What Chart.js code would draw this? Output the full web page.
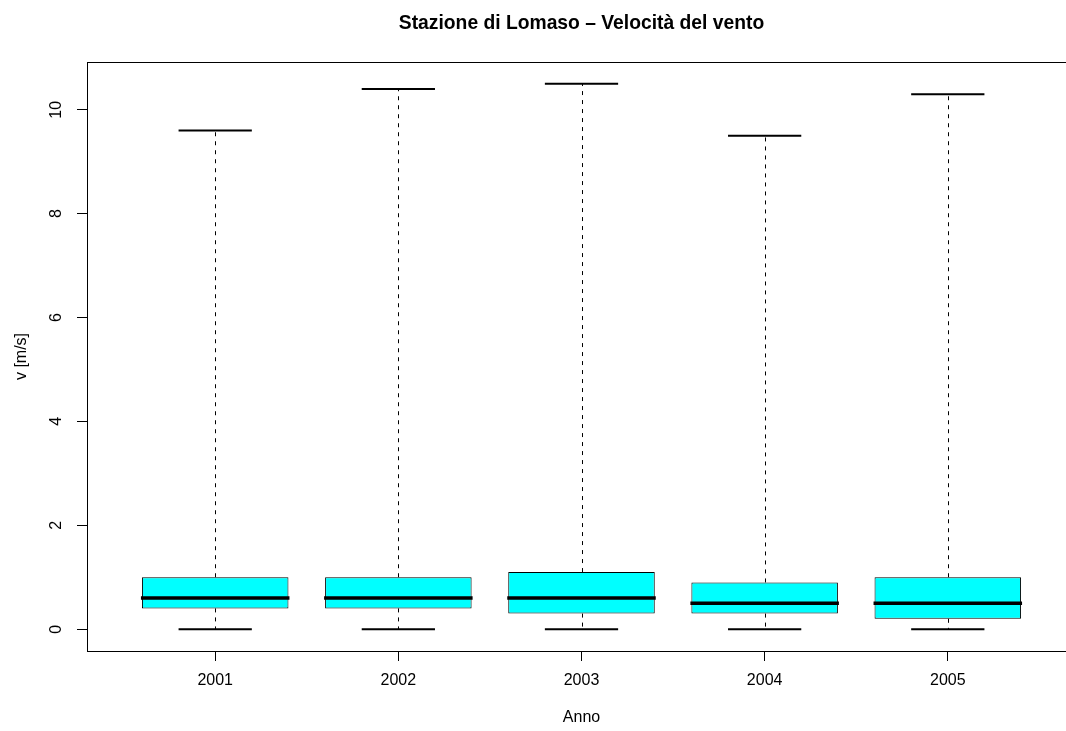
<!DOCTYPE html>
<html>
<head>
<meta charset="utf-8">
<script src="https://cdn.jsdelivr.net/npm/chart.js@4/dist/chart.umd.min.js"></script>
<style>
html,body{margin:0;padding:0;background:#fff;overflow:hidden;width:1066px;height:731px;}
canvas{display:block;}
</style>
</head>
<body>
<canvas id="c" width="1110" height="731" style="width:1110px;height:731px"></canvas>
<script>
const chartTitle = 'Stazione di Lomaso – Velocità del vento';
const years = ['2001', '2002', '2003', '2004', '2005'];
const minVals = [0, 0, 0, 0, 0];
const q1Vals = [0.4, 0.4, 0.3, 0.3, 0.2];
const medianVals = [0.6, 0.6, 0.6, 0.5, 0.5];
const q3Vals = [1.0, 1.0, 1.1, 0.9, 1.0];
const maxVals = [9.6, 10.4, 10.5, 9.5, 10.3];
const yTicks = [0, 2, 4, 6, 8, 10];

const FONT = "'Liberation Sans', Arial, Helvetica, sans-serif";

const boxPlugin = {
  id: 'boxExtras',
  afterDatasetsDraw(chart) {
    const ctx = chart.ctx;
    const xs = chart.scales.x, ys = chart.scales.y;
    const meta = chart.getDatasetMeta(0);
    ctx.save();
    years.forEach((yr, i) => {
      const bar = meta.data[i];
      const cx = xs.getPixelForValue(i + 1);
      const half = bar.width / 2;
      const capHalf = half / 2;
      const yMin = ys.getPixelForValue(minVals[i]);
      const yQ1 = ys.getPixelForValue(q1Vals[i]);
      const yQ3 = ys.getPixelForValue(q3Vals[i]);
      const yMax = ys.getPixelForValue(maxVals[i]);
      const yMed = ys.getPixelForValue(medianVals[i]);
      ctx.strokeStyle = '#000';
      ctx.lineWidth = 1;
      ctx.setLineDash([4, 5]);
      ctx.beginPath();
      ctx.moveTo(Math.round(cx) + 0.5, yQ3);
      ctx.lineTo(Math.round(cx) + 0.5, yMax);
      ctx.moveTo(Math.round(cx) + 0.5, yQ1);
      ctx.lineTo(Math.round(cx) + 0.5, yMin);
      ctx.stroke();
      ctx.setLineDash([]);
      ctx.lineWidth = 2;
      ctx.beginPath();
      ctx.moveTo(cx - capHalf, yMax);
      ctx.lineTo(cx + capHalf, yMax);
      ctx.moveTo(cx - capHalf, yMin);
      ctx.lineTo(cx + capHalf, yMin);
      ctx.stroke();
      ctx.lineWidth = 3.5;
      ctx.beginPath();
      ctx.moveTo(cx - half - 1, yMed);
      ctx.lineTo(cx + half + 1, yMed);
      ctx.stroke();
    });
    const a = chart.chartArea;
    ctx.lineWidth = 1;
    ctx.strokeStyle = '#000';
    ctx.strokeRect(Math.round(a.left) + 0.5, Math.round(a.top) + 0.5, Math.round(a.right - a.left), Math.round(a.bottom - a.top));
    ctx.fillStyle = '#000';
    ctx.font = '16px ' + FONT;
    ctx.textAlign = 'center';
    ctx.textBaseline = 'middle';
    yTicks.forEach(v => {
      const py = ys.getPixelForValue(v);
      ctx.save();
      ctx.translate(57, py);
      ctx.rotate(-Math.PI / 2);
      ctx.fillText(String(v), 0, 0);
      ctx.restore();
    });
    // main title, centred over the plot region like R
    ctx.font = 'bold 19.3px ' + FONT;
    ctx.textAlign = 'center';
    ctx.textBaseline = 'alphabetic';
    ctx.fillText(chartTitle, (a.left + a.right) / 2, 28.5);
    ctx.restore();
  }
};

new Chart(document.getElementById('c'), {
  type: 'bar',
  data: {
    datasets: [{
      data: years.map((y, i) => ({ x: i + 1, y: [q1Vals[i], q3Vals[i]] })),
      backgroundColor: '#00FFFF',
      borderColor: '#000',
      borderWidth: 1,
      borderSkipped: false,
      barPercentage: 0.8,
      categoryPercentage: 1.0
    }]
  },
  plugins: [boxPlugin],
  options: {
    responsive: false,
    animation: false,
    devicePixelRatio: 1,
    layout: { padding: { left: 0, top: 62, right: 34, bottom: 0 } },
    plugins: {
      legend: { display: false },
      tooltip: { enabled: false },
      title: { display: false }
    },
    scales: {
      x: {
        type: 'linear',
        offset: false,
        min: 0.3,
        max: 5.7,
        afterBuildTicks: s => { s.ticks = years.map((y, i) => ({ value: i + 1 })); },
        afterFit: s => { s.height = 80; },
        ticks: {
          color: '#000',
          font: { family: FONT, size: 16 },
          padding: 10,
          maxRotation: 0,
          autoSkip: false,
          callback: v => years[v - 1]
        },
        grid: { offset: false, drawOnChartArea: false, drawTicks: true, tickLength: 10, color: '#000' },
        border: { display: false },
        title: {
          display: true,
          text: 'Anno',
          color: '#000',
          font: { family: FONT, size: 16, lineHeight: 1.2 },
          padding: { top: 0, bottom: 3.4 }
        }
      },
      y: {
        type: 'linear',
        min: -0.42,
        max: 10.92,
        afterBuildTicks: s => { s.ticks = yTicks.map(v => ({ value: v })); },
        afterFit: s => { s.width = 87; },
        ticks: { display: false },
        grid: { drawOnChartArea: false, drawTicks: true, tickLength: 10, color: '#000' },
        border: { display: false },
        title: {
          display: true,
          text: 'v [m/s]',
          color: '#000',
          font: { family: FONT, size: 16, lineHeight: 1.2 },
          padding: { top: 12.4, bottom: 0 }
        }
      }
    }
  }
});
</script>
</body>
</html>
